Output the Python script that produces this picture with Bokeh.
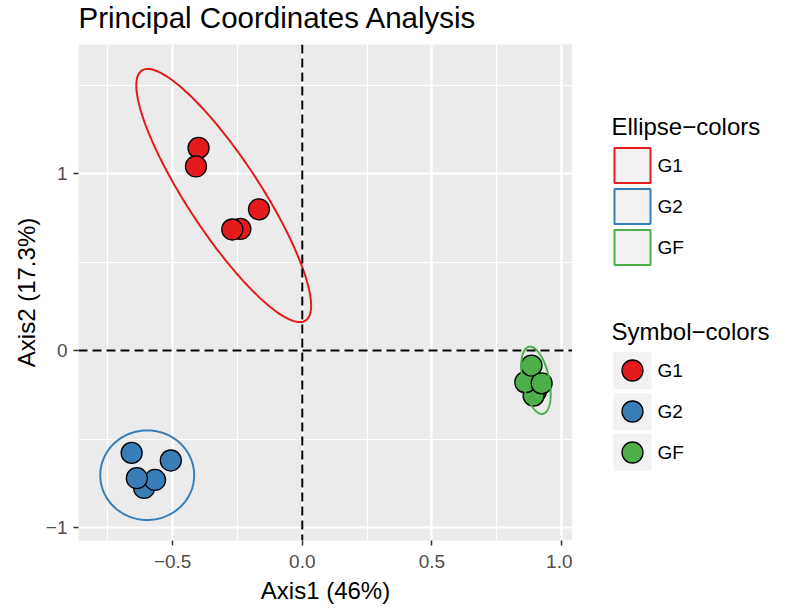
import numpy as np
from bokeh.plotting import figure
from bokeh.layouts import row, column
from bokeh.models import Range1d, FixedTicker, Span
from bokeh.core.properties import value
from bokeh.embed import file_html
from bokeh.resources import INLINE

# ---------------- data ----------------
groups = ["G1", "G2", "GF"]
colors = ["#E41A1C", "#377EB8", "#4DAF4A"]

g1_x = [-0.400, -0.410, -0.167, -0.239, -0.270]
g1_y = [1.145, 1.040, 0.798, 0.687, 0.684]
g2_x = [-0.658, -0.507, -0.610, -0.568, -0.638]
g2_y = [-0.578, -0.621, -0.776, -0.731, -0.721]
gf_x = [0.901, 0.892, 0.860, 0.884, 0.923]
gf_y = [-0.230, -0.254, -0.179, -0.085, -0.185]

# ellipse parameters per group (centre, half extents, correlation)
ell_cx = [-0.303, -0.598, 0.901]
ell_cy = [0.876, -0.704, -0.168]
ell_hx = [0.337, 0.181, 0.057]
ell_hy = [0.715, 0.253, 0.190]
ell_r = [-0.87, 0.0, -0.4]

x_ticks = [-0.5, 0.0, 0.5, 1.0]
x_labels = ["\u22120.5", "0.0", "0.5", "1.0"]
x_minor = [-0.75, -0.25, 0.25, 0.75]
y_ticks = [-1, 0, 1]
y_labels = ["\u22121", "0", "1"]
y_minor = [-0.5, 0.5, 1.5]

title_text = "Principal Coordinates Analysis"
x_title = "Axis1 (46%)"
y_title = "Axis2 (17.3%)"
ell_legend_title = "Ellipse\u2212colors"
sym_legend_title = "Symbol\u2212colors"

FONT = "Liberation Sans"

TOP_H = 44          # height of the title strip
FRAME_L, FRAME_R = 78, 572
FRAME_TOP, FRAME_BOTTOM = 44, 540
PAGE_H = 611

# ---------------- title strip ----------------
tp = figure(width=FRAME_R, height=TOP_H,
            x_range=Range1d(FRAME_L, FRAME_R), y_range=Range1d(TOP_H, 0),
            output_backend="svg", toolbar_location=None,
            x_axis_type=None, y_axis_type=None,
            min_border_left=FRAME_L, min_border_right=0,
            min_border_top=0, min_border_bottom=0)
tp.outline_line_color = None
tp.background_fill_color = "white"
tp.border_fill_color = "white"
tp.grid.visible = False
tp.text(x=[FRAME_L], y=[17.0], text=[title_text], text_font=value(FONT),
        text_font_size="29.5px", text_color="black", text_baseline="alphabetic",
        text_align="left")

# ---------------- main panel ----------------
p = figure(width=FRAME_R, height=PAGE_H - TOP_H,
           x_range=Range1d(-0.863, 1.042), y_range=Range1d(-1.073, 1.729),
           output_backend="svg", toolbar_location=None,
           min_border_left=FRAME_L, min_border_right=0,
           min_border_top=0, min_border_bottom=PAGE_H - FRAME_BOTTOM)
p.background_fill_color = "#EBEBEB"
p.border_fill_color = "white"
p.outline_line_color = None

p.xaxis.ticker = FixedTicker(ticks=x_ticks, minor_ticks=x_minor)
p.yaxis.ticker = FixedTicker(ticks=y_ticks, minor_ticks=y_minor)
p.xaxis.major_label_overrides = {t: l for t, l in zip(x_ticks, x_labels)}
p.yaxis.major_label_overrides = {t: l for t, l in zip(y_ticks, y_labels)}

for ax in (p.xaxis, p.yaxis):
    ax.axis_line_color = None
    ax.minor_tick_line_color = None
    ax.major_tick_line_color = "#333333"
    ax.major_tick_line_width = 1.5
    ax.major_tick_out = 5
    ax.major_tick_in = 0
    ax.major_label_text_font = FONT
    ax.major_label_text_font_size = "19px"
    ax.major_label_text_color = "#4D4D4D"
    ax.axis_label_text_font = FONT
    ax.axis_label_text_font_size = "24px"
    ax.axis_label_text_font_style = "normal"
    ax.axis_label_text_color = "black"
p.xaxis.major_label_standoff = 9
p.xaxis.axis_label_standoff = 6
p.yaxis.major_label_standoff = 6
p.yaxis.axis_label_standoff = 3
p.xaxis.axis_label = x_title
p.yaxis.axis_label = y_title

for g in (p.xgrid, p.ygrid):
    g.grid_line_color = "white"
    g.grid_line_width = 2.2
    g.minor_grid_line_color = "white"
    g.minor_grid_line_width = 1.1

# dashed reference lines
p.add_layout(Span(location=0, dimension="height", line_color="black",
                  line_width=2, line_dash="9 5"))
p.add_layout(Span(location=0, dimension="width", line_color="black",
                  line_width=2, line_dash="9 5"))

# points
pts = [(g1_x, g1_y), (g2_x, g2_y), (gf_x, gf_y)]
for (xs, ys), c in zip(pts, colors):
    p.scatter(xs, ys, size=21, fill_color=c, line_color="black", line_width=1.3)

# ellipses
t = np.linspace(0, 2 * np.pi, 240)
for cx, cy, hx, hy, r, c in zip(ell_cx, ell_cy, ell_hx, ell_hy, ell_r, colors):
    ex = cx + hx * np.cos(t)
    ey = cy + hy * (r * np.cos(t) + np.sqrt(1 - r * r) * np.sin(t))
    p.line(ex, ey, line_color=c, line_width=2)

# ---------------- legend panel (page-pixel coordinates, y downwards) ----------------
LW = 786 - FRAME_R
# the row layout aligns this panel's frame with the main frame (page rows 44..540)
lp = figure(width=LW, height=PAGE_H - TOP_H, x_range=Range1d(FRAME_R, FRAME_R + LW),
            y_range=Range1d(FRAME_BOTTOM, FRAME_TOP),
            output_backend="svg", toolbar_location=None,
            x_axis_type=None, y_axis_type=None, min_border=0)
lp.outline_line_color = None
lp.background_fill_color = "white"
lp.border_fill_color = "white"
lp.grid.visible = False

key_x = 632.0
key_w, key_h = 38.0, 37.0
pitch = 41.0
label_x = 657.0
n = len(groups)


def legend_block(title, title_base, first_key_y, kind):
    lp.text(x=[611.0], y=[title_base], text=[title], text_font=value(FONT),
            text_font_size="24px", text_color="black", text_baseline="alphabetic",
            text_align="left")
    ys = [first_key_y + i * pitch for i in range(n)]
    if kind == "ellipse":
        lp.rect(x=[key_x] * n, y=ys, width=key_w - 2, height=key_h - 2,
                fill_color="#F2F2F2", line_color=colors, line_width=2)
    else:
        lp.rect(x=[key_x] * n, y=ys, width=key_w, height=key_h,
                fill_color="#F2F2F2", line_color=None)
        lp.scatter(x=[key_x] * n, y=ys, size=21, fill_color=colors,
                   line_color="black", line_width=1.3)
    lp.text(x=[label_x] * n, y=ys, text=groups, text_font=value(FONT),
            text_font_size="19px", text_color="black", text_baseline="middle",
            text_align="left")


legend_block(ell_legend_title, 126.0, 165.0, "ellipse")
legend_block(sym_legend_title, 331.0, 370.0, "symbol")

layout = column(tp, row(p, lp))
open("out.html", "w").write(file_html(layout, INLINE))
